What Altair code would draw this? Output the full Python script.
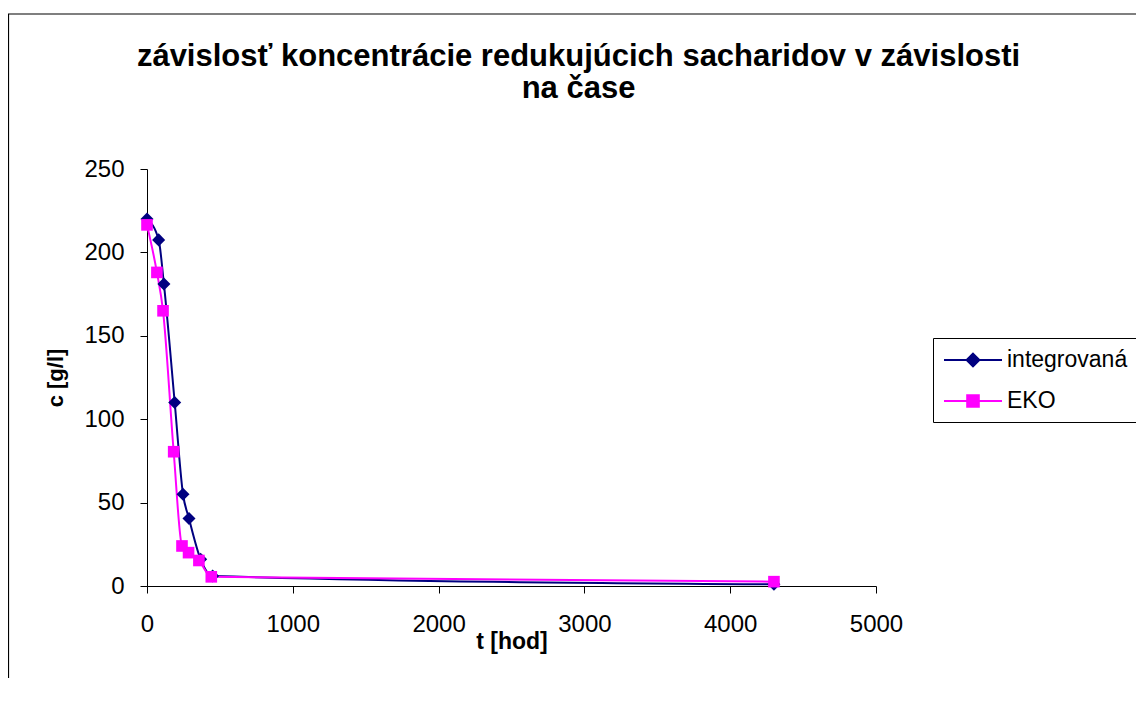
import altair as alt
import pandas as pd

# ---- data ----
series_names = ["integrovaná", "EKO"]
series_colors = ["#000080", "#FF00FF"]
series_markers = ["diamond", "square"]
series_marker_sizes = [170, 135]

t_integrovana = [0, 80, 116, 190, 247, 288, 368, 450, 4300]
c_integrovana = [220, 207.5, 181, 110, 55, 40.5, 16, 6, 1]

t_eko = [0, 68, 110, 183, 240, 285, 356, 441, 4300]
c_eko = [216.5, 188, 165, 80.5, 24, 20, 15.3, 5.5, 2.6]

x_ticks = [0, 1000, 2000, 3000, 4000, 5000]
y_ticks = [0, 50, 100, 150, 200, 250]

title_lines = ["závislosť koncentrácie redukujúcich sacharidov v závislosti", "na čase"]
x_title = "t [hod]"
y_title = "c [g/l]"

rows = []
for i, (t, c) in enumerate(zip(t_integrovana, c_integrovana)):
    rows.append({"t": t, "c": c, "series": series_names[0], "order": i})
for i, (t, c) in enumerate(zip(t_eko, c_eko)):
    rows.append({"t": t, "c": c, "series": series_names[1], "order": i})
df = pd.DataFrame(rows)

FONT = "Liberation Sans"

x_enc = alt.X(
    "t:Q",
    scale=alt.Scale(domain=[0, 5000], nice=False, zero=False),
    axis=alt.Axis(values=x_ticks, title=x_title, format="d", grid=False, labelFlush=False,
                  tickSize=7, labelPadding=19, titleY=55, titleBaseline="middle",
                  titleFontSize=23),
)
y_enc = alt.Y(
    "c:Q",
    scale=alt.Scale(domain=[0, 250], nice=False),
    axis=alt.Axis(values=y_ticks, title=y_title, format="d", grid=False, labelFlush=False,
                  tickSize=7, labelPadding=16, titleX=-92, titleY=208.5,
                  titleBaseline="middle", titleAngle=-90, titleFontSize=22),
)

series_layers = []
for name, col, shp, sz in zip(series_names, series_colors, series_markers, series_marker_sizes):
    base = alt.Chart(df).transform_filter(alt.datum.series == name)
    series_layers.append(
        base.mark_line(interpolate="monotone", strokeWidth=2, color=col).encode(
            x=x_enc, y=y_enc, order="order:Q")
    )
for name, col, shp, sz in zip(series_names, series_colors, series_markers, series_marker_sizes):
    base = alt.Chart(df).transform_filter(alt.datum.series == name)
    series_layers.append(
        base.mark_point(filled=True, opacity=1, shape=shp, size=sz, color=col).encode(
            x=x_enc, y=y_enc)
    )

# legend-only layer (no rows drawn): symbols are a line segment with the marker in the middle
color_scale = alt.Scale(domain=series_names, range=series_colors)
legend_paths = [
    "M-2.5,0H2.5M0,-0.55L0.55,0L0,0.55L-0.55,0Z",
    "M-2.5,0H2.5M-0.5,-0.5H0.5V0.5H-0.5Z",
]
leg = alt.Legend(
    title=None, orient="none", legendX=786, legendY=169,
    padding=9, symbolOffset=18, symbolSize=538, symbolStrokeWidth=2,
    labelFont=FONT, labelFontSize=23, labelColor="black", labelOffset=21,
    labelBaseline="middle",
    rowPadding=16, strokeColor="black", fillColor="white", cornerRadius=0,
)
legend_layer = alt.Chart(df).transform_filter("false").mark_point(
    filled=True, size=538, strokeWidth=2, opacity=1
).encode(
    x=x_enc, y=y_enc,
    fill=alt.Fill("series:N", scale=color_scale, legend=leg),
    stroke=alt.Stroke("series:N", scale=color_scale, legend=leg),
    shape=alt.Shape("series:N", scale=alt.Scale(domain=series_names, range=legend_paths), legend=leg),
)

border = alt.Chart(pd.DataFrame({"k": [0]})).mark_rect(
    fill="transparent", stroke="black", strokeWidth=1.2
).encode(
    x=alt.value(-138.5), x2=alt.value(1400), y=alt.value(-155), y2=alt.value(1000)
)

chart = alt.layer(border, *series_layers, legend_layer).properties(
    width=729, height=417,
    autosize=alt.AutoSizeParams(type="none"),
    padding={"left": 139, "top": 161, "right": 260, "bottom": 92},
    background="white",
    title=alt.TitleParams(
        text=title_lines, font=FONT, fontSize=31, fontWeight="bold", color="black",
        anchor="middle", frame="group", dx=67, lineHeight=32, offset=-92,
    ),
).configure_view(stroke=None).configure_axis(
    domainColor="black", tickColor="black", labelColor="black", titleColor="black",
    labelFont=FONT, labelFontSize=24, titleFont=FONT, titleFontWeight="bold",
    domainWidth=1, tickWidth=1,
)

chart.save("out.html", embed_options={"renderer": "svg", "actions": False})
